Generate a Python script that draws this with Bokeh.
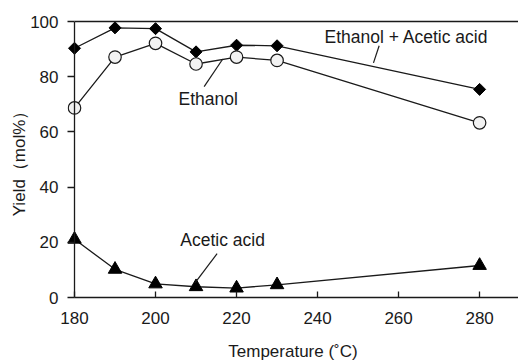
import math
from bokeh.plotting import figure
from bokeh.models import Range1d, FixedTicker, LinearAxis, Span
from bokeh.core.properties import value
from bokeh.embed import file_html
from bokeh.resources import INLINE

temperature = [180, 190, 200, 210, 220, 230, 280]
ethanol_acetic = [90.3, 97.7, 97.4, 89.0, 91.4, 91.2, 75.4]
ethanol = [68.7, 87.1, 92.1, 84.6, 87.1, 85.9, 63.3]
acetic_acid = [21.1, 10.2, 4.9, 3.9, 3.4, 4.6, 11.6]
x_ticks = [180, 200, 220, 240, 260, 280]
y_ticks = [0, 20, 40, 60, 80, 100]

FONT = "Liberation Sans"
INK = "#1a1a1a"
FS = "17px"
FS_T = "17.5px"

X0, X1 = 180, 289.6
Y0, Y1 = 0, 100

p = figure(width=518, height=363, output_backend="svg", toolbar_location=None,
           x_range=Range1d(178.27, X1), y_range=Range1d(Y0, Y1),
           min_border_left=67, min_border_right=0, min_border_top=21, min_border_bottom=61)
p.outline_line_color = None
p.grid.visible = False
p.background_fill_color = "white"
p.border_fill_color = "white"

for ax in (p.xaxis[0], p.yaxis[0]):
    ax.axis_line_color = INK
    ax.axis_line_width = 1.3
    ax.major_tick_line_color = INK
    ax.major_tick_line_width = 1.3
    ax.minor_tick_line_color = None
    ax.major_label_text_font = FONT
    ax.major_label_text_font_size = FS
    ax.major_label_text_color = INK
    ax.axis_label_text_font = FONT
    ax.axis_label_text_font_size = FS
    ax.axis_label_text_color = INK
    ax.axis_label_text_font_style = "normal"

p.xaxis.ticker = FixedTicker(ticks=x_ticks)
p.yaxis.ticker = FixedTicker(ticks=y_ticks)
p.xaxis.bounds = (X0, X1)
p.xaxis.major_tick_in = 6
p.xaxis.major_tick_out = 0
p.xaxis.major_label_standoff = 14
p.xaxis.axis_label = "Temperature (˚C)"
p.xaxis.axis_label_standoff = 15

p.yaxis.axis_line_color = None
p.yaxis.major_tick_in = 7
p.yaxis.major_tick_out = 0
p.yaxis.major_label_standoff = 9
p.yaxis.axis_label = "Yield（mol%）"
p.yaxis.axis_label_standoff = -2

# vertical axis line at 180 and top frame line
p.add_layout(Span(location=X0, dimension="height", line_color=INK, line_width=1.3))
top_axis = LinearAxis(bounds=(X0, X1), ticker=FixedTicker(ticks=[]), axis_line_color=INK,
                      axis_line_width=1.3, major_tick_line_color=None,
                      minor_tick_line_color=None)
p.add_layout(top_axis, "above")

# lines
p.line(temperature, ethanol_acetic, line_color=INK, line_width=1.3)
p.line(temperature, ethanol, line_color=INK, line_width=1.3)
p.line(temperature, acetic_acid, line_color=INK, line_width=1.3)

# markers
p.scatter(temperature, ethanol_acetic, marker="square", size=8.5, angle=math.pi / 4,
          fill_color="black", line_color="black", line_width=1)
p.scatter(temperature, ethanol, marker="circle", size=12.5, fill_color="#f2f2f2",
          line_color=INK, line_width=1.2)
p.scatter(temperature, acetic_acid, marker="triangle", size=13.5, fill_color="black",
          line_color="black", line_width=1)

# annotations
p.segment(x0=[255.2, 216.6, 215.2], y0=[91.2, 86.4, 15.9],
          x1=[253.8, 212.0, 209.8], y1=[85.0, 76.4, 5.4],
          line_color=INK, line_width=1.2)
p.text(x=[241.7], y=[94.3], text=["Ethanol + Acetic acid"], text_font=value(FONT),
       text_font_size=FS_T, text_color=INK, text_align="left", text_baseline="middle")
p.text(x=[213.0], y=[71.9], text=["Ethanol"], text_font=value(FONT),
       text_font_size=FS_T, text_color=INK, text_align="center", text_baseline="middle")
p.text(x=[206.1], y=[20.9], text=["Acetic acid"], text_font=value(FONT),
       text_font_size=FS_T, text_color=INK, text_align="left", text_baseline="middle")

open("out.html", "w").write(file_html(p, INLINE))
